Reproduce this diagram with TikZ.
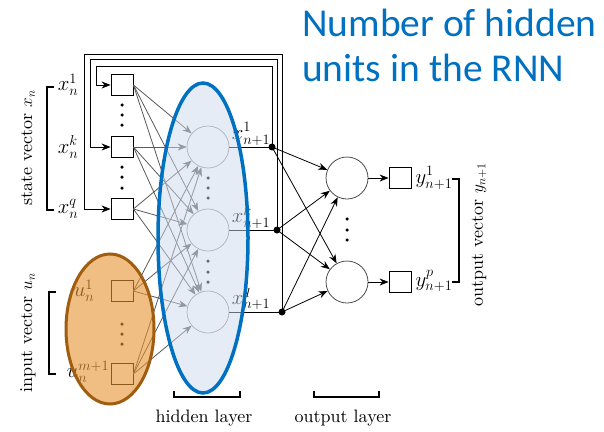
\documentclass[tikz,border=0pt]{standalone}
\usepackage{fontspec}
\setmainfont{lmroman10-regular}[Extension=.otf]
\newfontfamily\titlefont{Carlito}
\usetikzlibrary{arrows.meta}
\definecolor{titleblue}{RGB}{0,112,192}
\definecolor{hidfill}{RGB}{203,217,235}
\definecolor{orfill}{RGB}{230,147,47}
\definecolor{orborder}{RGB}{160,92,15}
\begin{document}
\begin{tikzpicture}[x=1pt,y=-1pt, font=\fontsize{18}{20}\selectfont,
  unit/.style={draw, minimum width=22pt, minimum height=21pt, fill=white, inner sep=0pt, line width=0.8pt},
  neuron/.style={circle, draw=black!45, minimum size=42pt, inner sep=0pt, line width=0.7pt},
  oneuron/.style={circle, draw=black!70, minimum size=42pt, inner sep=0pt, line width=0.8pt},
  junction/.style={circle, fill=black, minimum size=7pt, inner sep=0pt},
  conn/.style={draw=black!65, line width=0.8pt, -{Stealth[length=9pt,width=7pt]}},
  bconn/.style={draw=black, line width=0.8pt, -{Stealth[length=9pt,width=7pt]}},
  wire/.style={draw=black, line width=0.8pt},
  brack/.style={draw=black, line width=1.5pt},
  dotmark/.style={circle, fill=black, minimum size=3.5pt, inner sep=0pt},
  lab/.style={inner sep=0pt},
  mlab/.style={inner sep=0pt, font=\fontsize{20}{22}\selectfont}
]
\useasboundingbox (0,0) rectangle (604,431);

% input units
\node[unit] (i1) at (122,85) {};
\node[unit] (ik) at (122,147) {};
\node[unit] (iq) at (122,209) {};
\node[unit] (u1) at (122,291) {};
\node[unit] (um) at (122,374) {};

% hidden neurons
\node[neuron] (h1) at (208,147) {};
\node[neuron] (hk) at (208,230) {};
\node[neuron] (hq) at (208,312) {};

% junctions
\node[junction] (d1) at (272,147) {};
\node[junction] (d2) at (277,230) {};
\node[junction] (d3) at (282,312) {};

% output neurons and units
\node[oneuron] (o1) at (347,178) {};
\node[oneuron] (op) at (347,282) {};
\node[unit] (y1) at (400,178) {};
\node[unit] (yp) at (400,282) {};

% input -> hidden
\foreach \s in {i1,ik,iq,u1,um}
  \foreach \t in {h1,hk,hq}
    \draw[conn] (\s.east) -- (\t);

% hidden -> junctions
\draw[wire] (h1.east) -- (d1.center);
\draw[wire] (hk.east) -- (d2.center);
\draw[wire] (hq.east) -- (d3.center);

% junctions -> output neurons
\foreach \s in {d1,d2,d3}
  \foreach \t in {o1,op}
    \draw[bconn] (\s.center) -- (\t);

% output neurons -> output units
\draw[bconn] (o1) -- (y1);
\draw[bconn] (op) -- (yp);

% feedback loops
\coordinate (c1) at (96,66);
\coordinate (c2) at (90,59);
\coordinate (c3) at (84,54);
\draw[bconn] (d1.center) |- (c1) |- (i1.west);
\draw[bconn] (d2.center) |- (c2) |- (ik.west);
\draw[bconn] (d3.center) |- (c3) |- (iq.west);

% vertical dots
\foreach \x/\y in {122/105,122/115,122/125, 122/167,122/177,122/188, 122/324,122/334,122/344,
                   208/178,208/188,208/198, 208/261,208/272,208/282,
                   347/219,347/230,347/240}
  \node[dotmark] at (\x,\y) {};

% labels
\node[mlab] (lx1) at (68,85) {$x_n^1$};
\node[mlab] (lxk) at (68,147) {$x_n^k$};
\node[mlab] (lxq) at (68,209) {$x_n^q$};
\node[mlab] (lu1) at (84,291) {$u_n^1$};
\node[mlab] (lum) at (88,372) {$u_n^{m+1}$};
\node[mlab] (lh1) at (251,134) {$x_{n+1}^1$};
\node[mlab] (lhk) at (251,217) {$x_{n+1}^k$};
\node[mlab] (lhq) at (251,299) {$x_{n+1}^q$};
\node[mlab] (ly1) at (434,178) {$y_{n+1}^1$};
\node[mlab] (lyp) at (434,281) {$y_{n+1}^p$};

% brackets
\draw[brack] (54,87) -- (47,87) -- (47,210) -- (54,210);
\draw[brack] (56,292) -- (49,292) -- (49,374) -- (56,374);
\draw[brack] (452,179) -- (459,179) -- (459,282) -- (452,282);
\draw[brack] (174,391) -- (174,397) -- (240,397) -- (240,391);
\draw[brack] (314,391) -- (314,397) -- (379,397) -- (379,391);

\node[lab, rotate=90] (lstate) at (28,148) {state vector $x_n$};
\node[lab, rotate=90] (linput) at (28,333) {input vector $u_n$};
\node[lab, rotate=90] (loutput) at (479,235) {output vector $y_{n+1}$};
\node[lab] (lhid) at (204,418) {hidden layer};
\node[lab] (lout) at (343,418) {output layer};

% highlight ellipses
\draw[fill=orfill, fill opacity=0.6, draw=orborder, line width=3pt] (110,329) ellipse [x radius=44, y radius=75];
\draw[fill=hidfill, fill opacity=0.5, draw=titleblue, line width=3.5pt] (203,238) ellipse [x radius=45, y radius=155];

% title
\node[anchor=base west, inner sep=0pt, text=titleblue, font=\titlefont\fontsize{39.5}{45}\selectfont] (t1) at (302,36) {Number of hidden};
\node[anchor=base west, inner sep=0pt, text=titleblue, font=\titlefont\fontsize{39.5}{45}\selectfont] (t2) at (302,81) {units in the RNN};
\end{tikzpicture}
\end{document}
